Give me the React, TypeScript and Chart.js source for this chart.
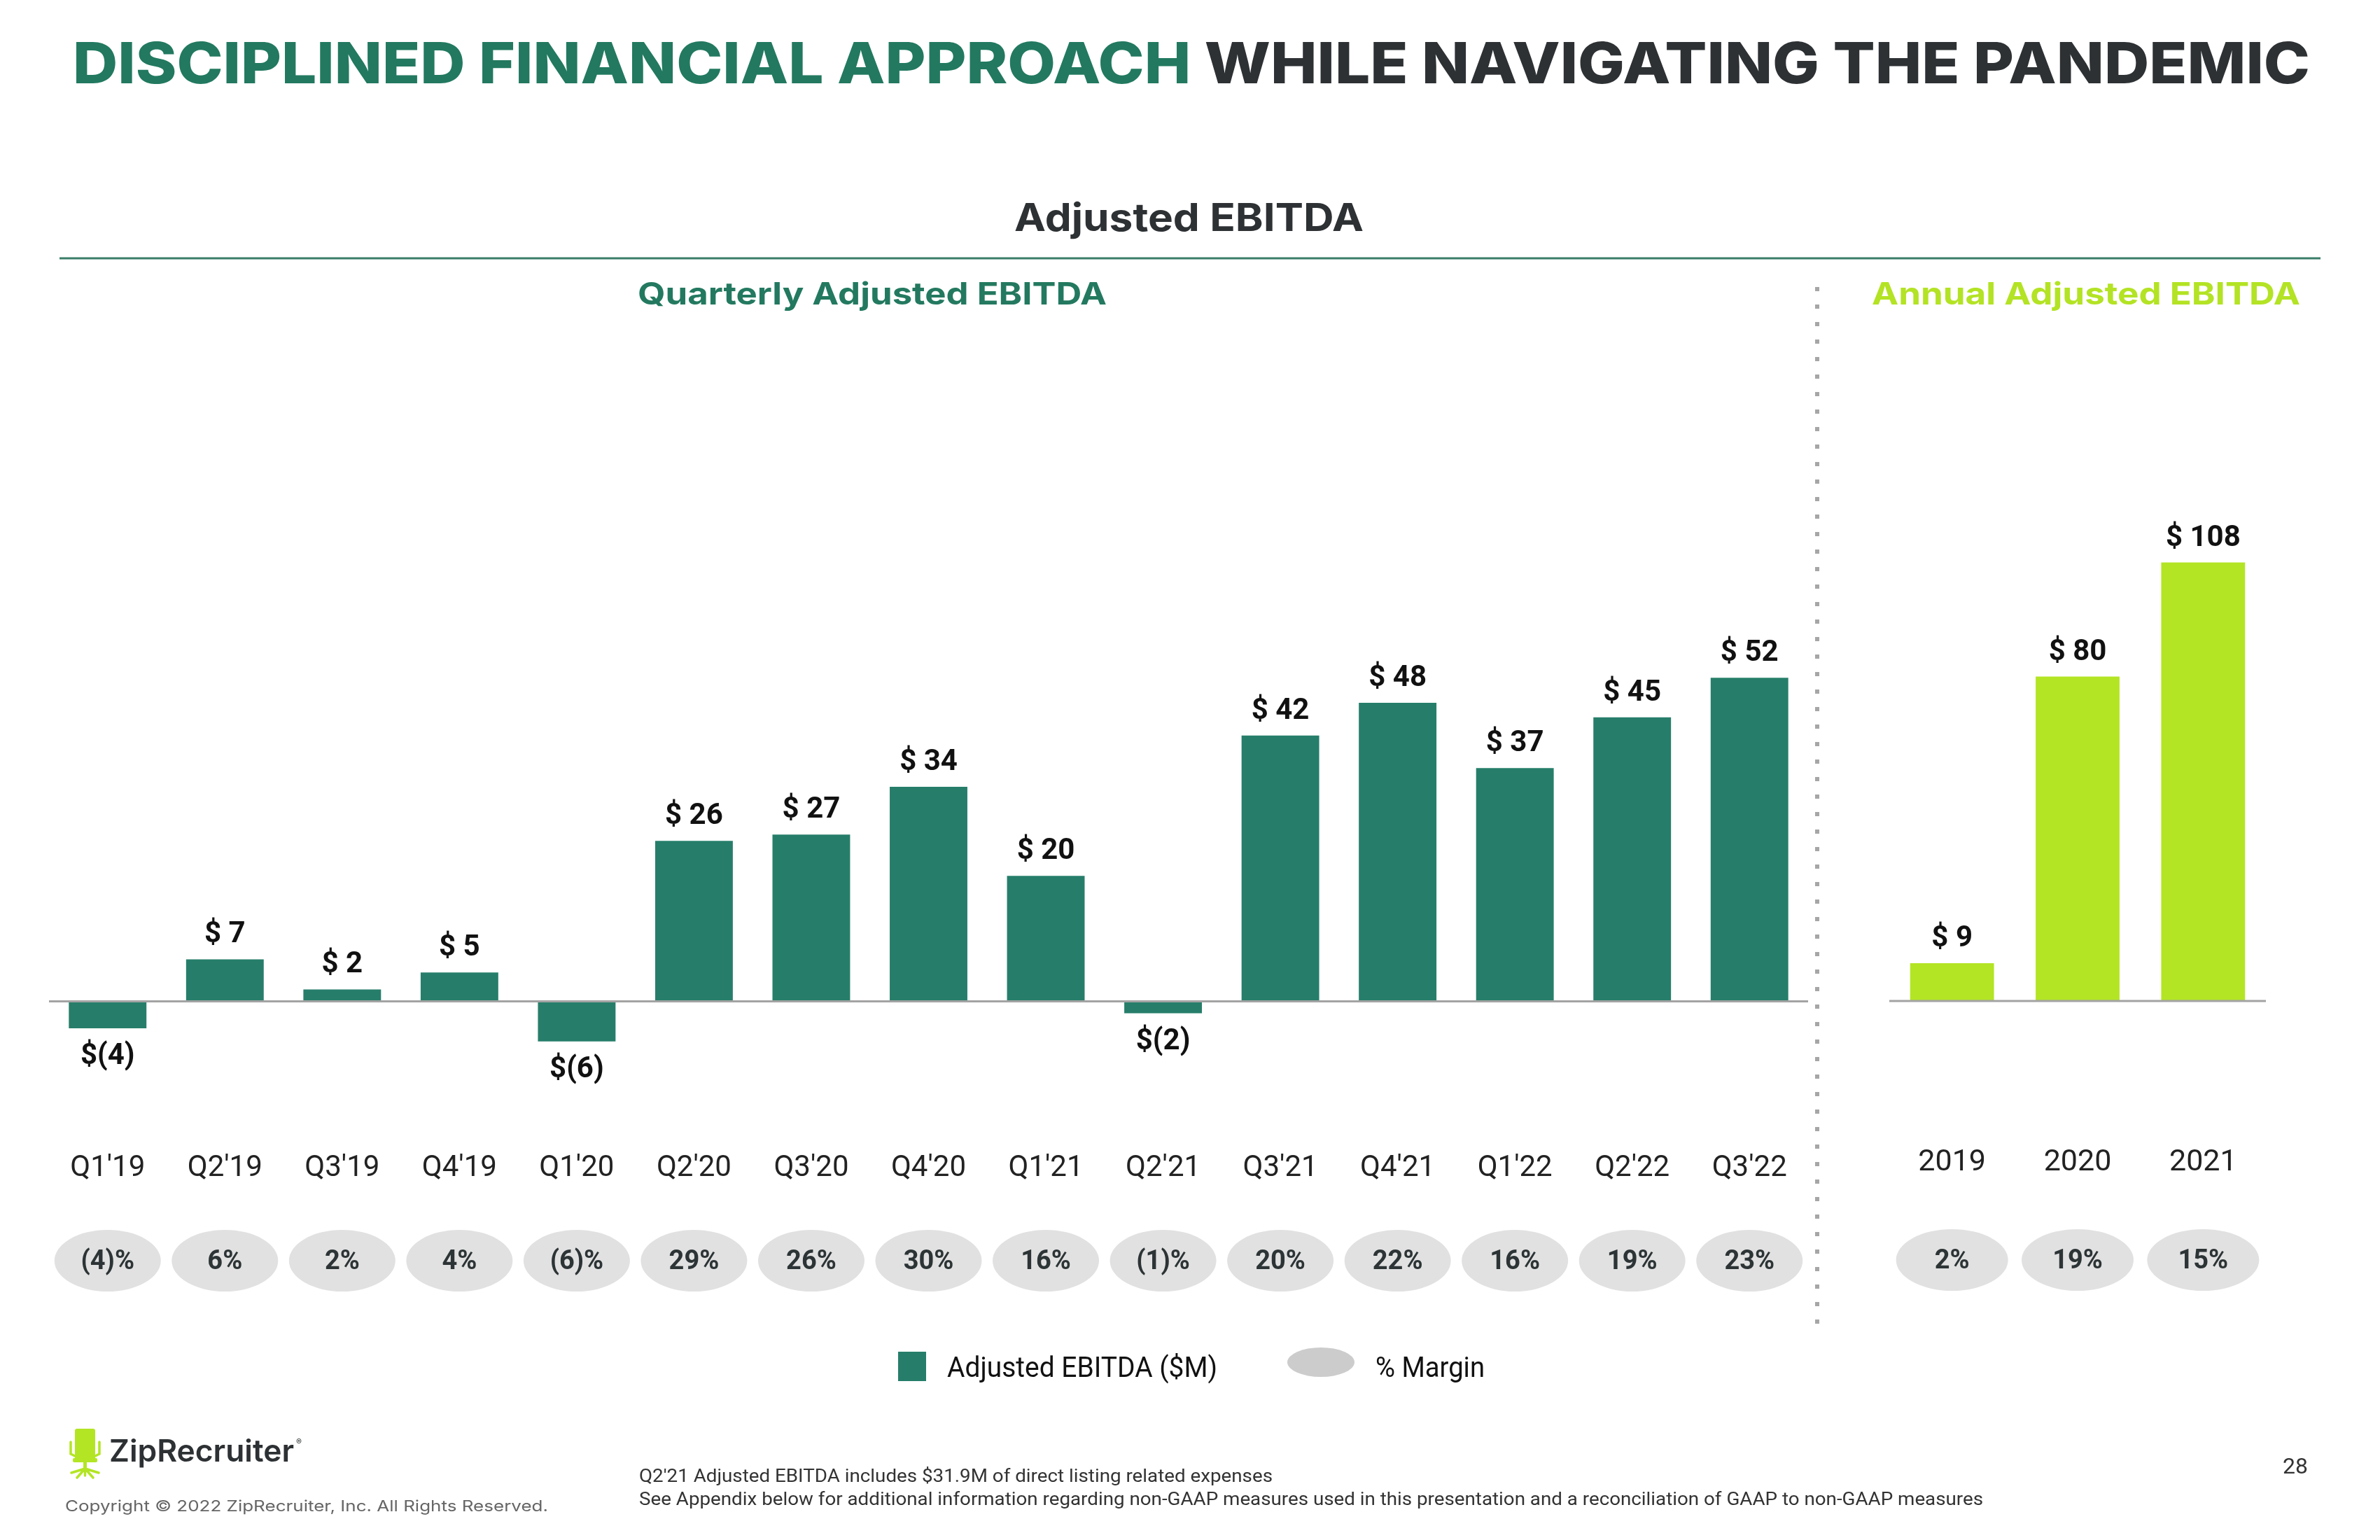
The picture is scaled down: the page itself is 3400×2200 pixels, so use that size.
import React, { useEffect, useRef } from "react";
import { Chart, registerables } from "chart.js";

Chart.register(...registerables);

// ---------- DATA ----------
const quarters = ["Q1'19", "Q2'19", "Q3'19", "Q4'19", "Q1'20", "Q2'20", "Q3'20", "Q4'20", "Q1'21", "Q2'21", "Q3'21", "Q4'21", "Q1'22", "Q2'22", "Q3'22"];
const quarterlyEbitda = [-4.3, 6.7, 1.9, 4.6, -6.4, 25.6, 26.6, 34.2, 20.0, -1.9, 42.4, 47.6, 37.2, 45.3, 51.6];
const quarterlyMargin = [-4, 6, 2, 4, -6, 29, 26, 30, 16, -1, 20, 22, 16, 19, 23];
const years = ["2019", "2020", "2021"];
const annualEbitda = [9.3, 79.9, 108.0];
const annualMargin = [2, 19, 15];

const GREEN = "#267e6a";
const LIME = "#b3e524";

const fmtMoney = (v: number) => (v < 0 ? `$(${Math.round(-v)})` : `$ ${Math.round(v)}`);
const fmtPct = (v: number) => (v < 0 ? `(${Math.abs(v)})%` : `${v}%`);

type PluginCfg = {
  margins: number[];
  rx: number;
  ry: number;
  pillOffset: number;
  labelFont: string;
  pillFont: string;
};

function makePlugin(cfg: PluginCfg) {
  return {
    id: "ebitdaDecor",
    afterDatasetsDraw(chart: any) {
      const ctx = chart.ctx as CanvasRenderingContext2D;
      const xs = chart.scales.x;
      const ys = chart.scales.y;
      const area = chart.chartArea;
      const zero = ys.getPixelForValue(0);
      ctx.save();
      // zero baseline
      ctx.strokeStyle = "#a3a3a3";
      ctx.lineWidth = 3;
      ctx.beginPath();
      ctx.moveTo(area.left, zero);
      ctx.lineTo(area.right, zero);
      ctx.stroke();
      // value labels
      const meta = chart.getDatasetMeta(0);
      const data = chart.data.datasets[0].data as number[];
      ctx.font = cfg.labelFont;
      ctx.fillStyle = "#111111";
      ctx.textAlign = "center";
      meta.data.forEach((bar: any, i: number) => {
        const v = data[i];
        if (v >= 0) {
          ctx.textBaseline = "alphabetic";
          ctx.fillText(fmtMoney(v), bar.x, bar.y - 24);
        } else {
          ctx.textBaseline = "top";
          ctx.fillText(fmtMoney(v), bar.x, bar.y + 20);
        }
      });
      // margin pills
      const py = area.bottom + cfg.pillOffset;
      cfg.margins.forEach((m, i) => {
        const cx = xs.getPixelForValue(i);
        ctx.fillStyle = "#e1e1e1";
        ctx.beginPath();
        ctx.ellipse(cx, py, cfg.rx, cfg.ry, 0, 0, Math.PI * 2);
        ctx.fill();
        ctx.fillStyle = "#2d3436";
        ctx.font = cfg.pillFont;
        ctx.textBaseline = "middle";
        ctx.textAlign = "center";
        ctx.fillText(fmtPct(m), cx, py + 2);
      });
      ctx.restore();
    },
  };
}

function BarChart(props: {
  labels: string[];
  values: number[];
  margins: number[];
  color: string;
  left: number;
  top: number;
  width: number;
  height: number;
  padLeft: number;
  padRight: number;
  padTop: number;
  axisHeight: number;
  tickPadding: number;
  tickSize: number;
  yMin: number;
  yMax: number;
  barPct: number;
  rx: number;
  pillOffset: number;
}) {
  const ref = useRef<HTMLCanvasElement | null>(null);
  useEffect(() => {
    if (!ref.current) return;
    const chart = new Chart(ref.current, {
      type: "bar",
      data: {
        labels: props.labels,
        datasets: [
          {
            data: props.values,
            backgroundColor: props.color,
            borderWidth: 0,
            barPercentage: props.barPct,
            categoryPercentage: 1,
          },
        ],
      },
      options: {
        animation: false,
        responsive: false,
        devicePixelRatio: 1,
        layout: { padding: { left: props.padLeft, right: props.padRight, top: props.padTop, bottom: 0 } },
        plugins: { legend: { display: false }, tooltip: { enabled: false }, title: { display: false } },
        scales: {
          x: {
            grid: { display: false, drawTicks: false },
            border: { display: false },
            ticks: {
              font: { family: "Roboto", size: props.tickSize },
              color: "#222222",
              padding: props.tickPadding,
              maxRotation: 0,
              autoSkip: false,
            },
            afterFit: (s: any) => {
              s.height = props.axisHeight;
              s.paddingLeft = 0;
              s.paddingRight = 0;
            },
          },
          y: { display: false, min: props.yMin, max: props.yMax },
        },
      },
      plugins: [
        makePlugin({
          margins: props.margins,
          rx: props.rx,
          ry: 44,
          pillOffset: props.pillOffset,
          labelFont: "bold 42px Roboto",
          pillFont: "bold 38px Roboto",
        }),
      ],
    } as any);
    return () => chart.destroy();
  }, []);
  return (
    <canvas
      ref={ref}
      width={props.width}
      height={props.height}
      style={{ position: "absolute", left: props.left, top: props.top, width: props.width, height: props.height }}
    />
  );
}

const HEAD = "Inter, 'Open Sans', 'DejaVu Sans', sans-serif";

export default function App() {
  return (
    <div style={{ position: "absolute", left: 0, top: 0, width: 3400, height: 2200, background: "#ffffff", overflow: "hidden" }}>
      <BarChart
        labels={quarters}
        values={quarterlyEbitda}
        margins={quarterlyMargin}
        color={GREEN}
        left={0}
        top={800}
        width={2600}
        height={1100}
        padLeft={70}
        padRight={17}
        padTop={93}
        axisHeight={380}
        tickPadding={124}
        tickSize={42}
        yMin={-10}
        yMax={60}
        barPct={0.662}
        rx={76}
        pillOffset={281}
      />
      <BarChart
        labels={years}
        values={annualEbitda}
        margins={annualMargin}
        color={LIME}
        left={2620}
        top={600}
        width={780}
        height={1300}
        padLeft={79}
        padRight={163}
        padTop={105}
        axisHeight={383}
        tickPadding={118}
        tickSize={43}
        yMin={-15}
        yMax={125}
        barPct={0.668}
        rx={80}
        pillOffset={283}
      />
      <svg width={3400} height={2200} style={{ position: "absolute", left: 0, top: 0, pointerEvents: "none" }}>
        <text x={104} y={119} fontFamily={HEAD} fontWeight={800} fontSize={81} textLength={3196} lengthAdjust="spacingAndGlyphs">
          <tspan fill="#22795f">DISCIPLINED FINANCIAL APPROACH </tspan>
          <tspan fill="#2d3134">WHILE NAVIGATING THE PANDEMIC</tspan>
        </text>
        <text x={1449} y={330} fontFamily={HEAD} fontWeight={700} fontSize={55} fill="#2d3134" textLength={499} lengthAdjust="spacingAndGlyphs">
          Adjusted EBITDA
        </text>
        <line x1={85} y1={369} x2={3315} y2={369} stroke="#3a7d68" strokeWidth={3} />
        <text x={911} y={435} fontFamily={HEAD} fontWeight={700} fontSize={44} fill="#23795f" textLength={670} lengthAdjust="spacingAndGlyphs">
          Quarterly Adjusted EBITDA
        </text>
        <text x={2674} y={435} fontFamily={HEAD} fontWeight={700} fontSize={44} fill="#b3e324" textLength={612} lengthAdjust="spacingAndGlyphs">
          Annual Adjusted EBITDA
        </text>
        <line x1={2596} y1={410} x2={2596} y2={1898} stroke="#a6a6a6" strokeWidth={6} strokeDasharray="6 19" />

        {/* legend */}
        <rect x={1283} y={1931} width={40} height={42} fill={GREEN} />
        <text x={1353} y={1967} fontFamily="Roboto" fontSize={40} fill="#111111" textLength={386} lengthAdjust="spacingAndGlyphs">
          Adjusted EBITDA ($M)
        </text>
        <ellipse cx={1887} cy={1946} rx={48} ry={21} fill="#cccccc" />
        <text x={1965} y={1967} fontFamily="Roboto" fontSize={40} fill="#111111" textLength={156} lengthAdjust="spacingAndGlyphs">
          % Margin
        </text>

        {/* logo */}
        <g fill={LIME} stroke="none">
          <rect x={107} y={2041} width={29} height={46} rx={3} />
          <rect x={104} y={2083} width={35} height={6} rx={2} />
          <rect x={119} y={2088} width={5} height={10} />
        </g>
        <g stroke={LIME} strokeWidth={3.5} fill="none" strokeLinecap="round">
          <path d="M101 2060 L101 2077 L107 2080" />
          <path d="M142 2060 L142 2077 L136 2080" />
          <path d="M121.5 2098 L102 2104 M121.5 2098 L141 2104 M121.5 2098 L110 2111 M121.5 2098 L133 2111 M121.5 2098 L121.5 2108" />
        </g>
        <text x={156} y={2088} fontFamily={HEAD} fontWeight={600} fontSize={44} fill="#2d3134" textLength={264} lengthAdjust="spacingAndGlyphs">
          ZipRecruiter
        </text>
        <text x={423} y={2064} fontFamily={HEAD} fontSize={12} fill="#2d3134">
          ®
        </text>
        <text x={93} y={2159} fontFamily={HEAD} fontSize={22} fill="#666666" textLength={690} lengthAdjust="spacingAndGlyphs">
          Copyright © 2022 ZipRecruiter, Inc. All Rights Reserved.
        </text>
        <text x={913} y={2117} fontFamily="Roboto" fontSize={25} fill="#333333" textLength={905} lengthAdjust="spacingAndGlyphs">
          Q2'21 Adjusted EBITDA includes $31.9M of direct listing related expenses
        </text>
        <text x={913} y={2150} fontFamily="Roboto" fontSize={25} fill="#333333" textLength={1920} lengthAdjust="spacingAndGlyphs">
          See Appendix below for additional information regarding non-GAAP measures used in this presentation and a reconciliation of GAAP to non-GAAP measures
        </text>
        <text x={3261} y={2105} fontFamily="Roboto" fontSize={32} fill="#333333">
          28
        </text>
      </svg>
    </div>
  );
}
